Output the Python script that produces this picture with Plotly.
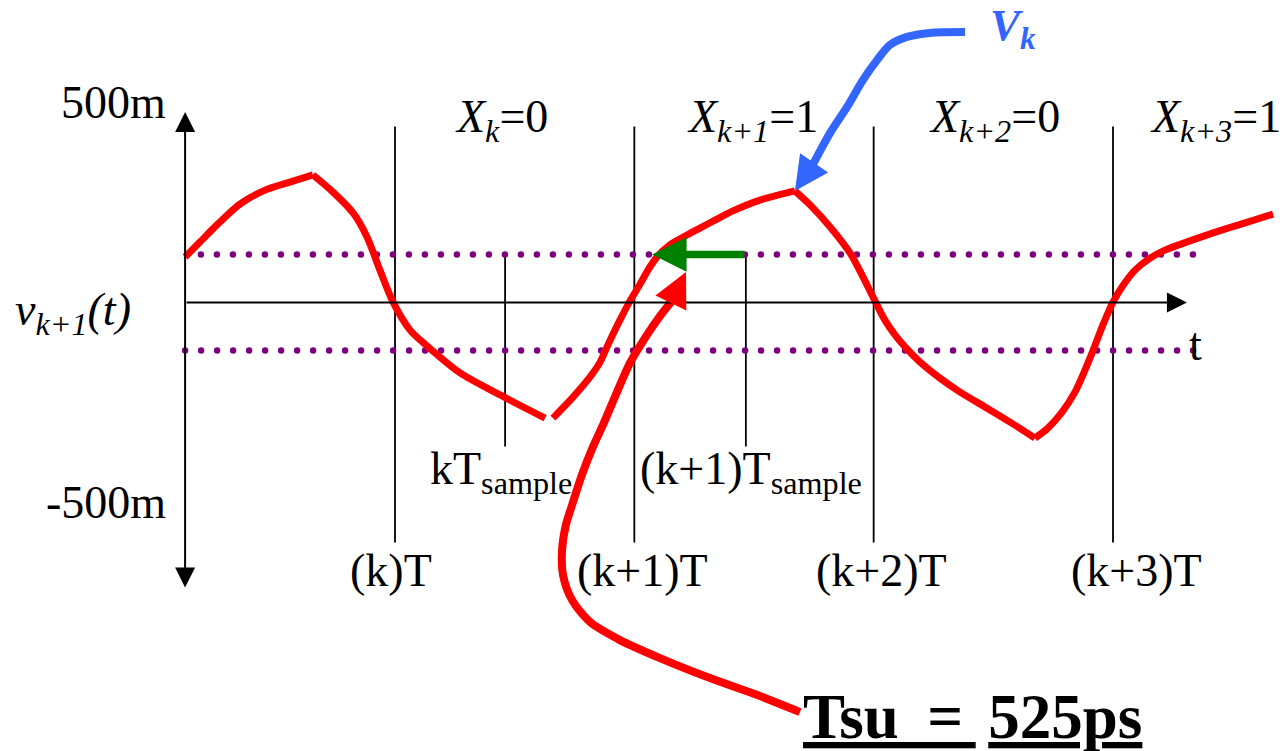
import numpy as np
import plotly.graph_objects as go

# ---------------- data (time in bit periods T, 0 = kT; voltage in mV) ----------------
# received waveform v_{k+1}(t): first piece (ends at the kT_sample region)
wave1_t = [-0.877, -0.815, -0.744, -0.648, -0.543, -0.439, -0.343, -0.259, -0.175, -0.117,
           -0.063, -0.008, 0.063, 0.125, 0.272, 0.439, 0.627]
wave1_v = [114, 151, 194, 246, 281, 301, 319, 276, 224, 164,
           81, 1, -69, -104, -176, -231, -289]

# second piece: rising edge, peak V_k, falling edge, trough, rising edge
wave2_t = [0.660, 0.740, 0.815, 0.857, 0.886, 0.915, 0.944, 0.982, 1.024, 1.057,
           1.095, 1.149, 1.212, 1.274, 1.337, 1.412, 1.525, 1.671,
           1.734, 1.818, 1.901, 1.951, 1.997, 2.047, 2.089, 2.131, 2.194, 2.277,
           2.361, 2.465, 2.570, 2.674,
           2.728, 2.787, 2.841, 2.883, 2.916, 2.958, 3.000, 3.046, 3.092, 3.155,
           3.217, 3.322, 3.418, 3.552, 3.669]
wave2_v = [-289, -239, -186, -149, -111, -74, -39, 4, 46, 81,
           114, 144, 166, 186, 206, 229, 256, 279,
           244, 189, 124, 69, 14, -44, -81, -111, -149, -189,
           -224, -261, -299, -339,
           -314, -274, -224, -169, -121, -56, 1, 46, 81, 111,
           131, 154, 174, 199, 221]

# bit period boundaries and their labels
period_t = [0, 1, 2, 3]
period_labels = ["(k)T", "(k+1)T", "(k+2)T", "(k+3)T"]
period_label_t = [-0.017, 1.035, 2.031, 3.098]
period_span_v = [440, -600]

# bit values inside each period
bit_labels = ["<i>X<sub>k</sub></i>=0", "<i>X<sub>k+1</sub></i>=1",
              "<i>X<sub>k+2</sub></i>=0", "<i>X<sub>k+3</sub></i>=1"]
bit_label_t = [0.445, 1.494, 2.503, 3.43]

# sampling instants
sample_t = [0.46, 1.466]
sample_labels = ["kT<sub>sample</sub>", "(k+1)T<sub>sample</sub>"]
sample_label_t = [0.138, 1.015]
sample_span_v = [120, -360]

# decision thresholds (mV)
threshold_v = [120, -120]
threshold_start_t = [-0.811, -0.877]
threshold_end_t = 3.313

# vertical scale labels
scale_v = [500, -500]
scale_labels = ["500m", "-500m"]

# setup-time annotation
tsu_name = "Tsu"
tsu_value = "525ps"
tsu_t = 0.392          # setup time in bit periods, measured back from (k+1)T_sample

# pointer curve from the Tsu label
pointer_t = [1.692, 1.525, 1.316, 1.107, 0.940, 0.815, 0.740, 0.702, 0.698, 0.714,
             0.740, 0.781, 0.827, 0.869, 0.919, 0.982, 1.053, 1.107, 1.157]
pointer_v = [-1024, -984, -939, -889, -844, -799, -744, -681, -619, -556,
             -506, -431, -361, -306, -236, -151, -81, -34, 4]
pointer_tip = (1.216, 76)

# pointer curve from the V_k label to the peak
vk_t = [2.382, 2.235, 2.139, 2.068, 2.014, 1.955, 1.889, 1.818, 1.763, 1.742]
vk_v = [676, 674, 664, 644, 606, 556, 489, 424, 364, 341]

# axes extent
axis_origin_t = -0.877
axis_end_t = 3.309
axis_top_v = 476
axis_bottom_v = -716

# ---------------- styling ----------------
FONT = "Liberation Serif"
RED = "#FF0000"
PURPLE = "#800080"
GREEN = "#008000"
BLUE = "#3366FF"
BLACK = "#000000"
DOT_PITCH = 0.06685     # spacing of threshold dots, in T

fig = go.Figure()


def vlines(ts, v0, v1):
    xs, ys = [], []
    for t in ts:
        xs += [t, t, None]
        ys += [v0, v1, None]
    return xs, ys


def smooth_line(t, v, color, width, smoothing=0.8):
    fig.add_trace(go.Scatter(x=t, y=v, mode="lines", line_shape="spline",
                             line=dict(color=color, width=width, smoothing=smoothing),
                             hoverinfo="skip"))


def add_wave(t, v, color, width):
    """Draw a waveform as smooth pieces, keeping sharp corners at its extrema."""
    v_arr = np.asarray(v)
    cuts = [i for i in range(1, len(v) - 1)
            if (v_arr[i] - v_arr[i - 1]) * (v_arr[i + 1] - v_arr[i]) < 0]
    bounds = [0] + cuts + [len(v) - 1]
    for a, b in zip(bounds[:-1], bounds[1:]):
        smooth_line(t[a:b + 1], v[a:b + 1], color, width)


# period boundary lines
px_, py_ = vlines(period_t, *period_span_v)
fig.add_trace(go.Scatter(x=px_, y=py_, mode="lines",
                         line=dict(color=BLACK, width=1.8), hoverinfo="skip"))
# sampling instant lines
sx_, sy_ = vlines(sample_t, *sample_span_v)
fig.add_trace(go.Scatter(x=sx_, y=sy_, mode="lines",
                         line=dict(color=BLACK, width=1.8), hoverinfo="skip"))

# dotted threshold lines
for lvl, t0 in zip(threshold_v, threshold_start_t):
    dots = np.arange(t0, threshold_end_t + DOT_PITCH / 2, DOT_PITCH)
    fig.add_trace(go.Scatter(x=dots, y=[lvl] * len(dots), mode="markers",
                             marker=dict(color=PURPLE, size=6.5, line=dict(width=0)),
                             hoverinfo="skip"))

# waveform
add_wave(wave1_t, wave1_v, RED, 7)
add_wave(wave2_t, wave2_v, RED, 7)

# pointer curves
smooth_line(pointer_t, pointer_v, RED, 8)
smooth_line(vk_t, vk_v, BLUE, 8)

ann = []


def arrow(x, y, ax, ay, color, width, size, both=False):
    d = dict(x=x, y=y, ax=ax, ay=ay, xref="x", yref="y", axref="x", ayref="y",
             text="", showarrow=True, arrowhead=2, arrowwidth=width,
             arrowsize=size, arrowcolor=color, standoff=0, startstandoff=0)
    if both:
        d.update(arrowside="end+start", startarrowhead=2, startarrowsize=size)
    return d


# axes
ann.append(arrow(axis_origin_t, axis_top_v, axis_origin_t, axis_bottom_v, BLACK, 2, 2, both=True))
ann.append(arrow(axis_end_t, 0, axis_origin_t, 0, BLACK, 2, 2))

# arrowheads on pointer curves
ann.append(arrow(pointer_tip[0], pointer_tip[1], pointer_t[-1], pointer_v[-1], RED, 8, 0.86))
peak_i = int(np.argmax(wave2_v))
ann.append(arrow(wave2_t[peak_i], wave2_v[peak_i], vk_t[-1], vk_v[-1], BLUE, 8, 0.85))

# setup-time arrow (from sample instant back by Tsu)
ann.append(arrow(sample_t[1] - tsu_t, threshold_v[0], sample_t[1], threshold_v[0], GREEN, 7.5, 0.92))


def label(x, y, text, size=46, xanchor="center", color=BLACK, yanchor="middle"):
    return dict(x=x, y=y, xref="x", yref="y", text=text, showarrow=False,
                xanchor=xanchor, yanchor=yanchor,
                font=dict(family=FONT, size=size, color=color))


for v, txt in zip(scale_v, scale_labels):
    ann.append(label(-0.9485, v, txt, xanchor="right"))

ann.append(label(-1.596, -27, "<i>v<sub>k+1</sub>(t)</i>", xanchor="left"))

for t, txt in zip(bit_label_t, bit_labels):
    ann.append(label(t, 456, txt))

for t, txt in zip(period_label_t, period_labels):
    ann.append(label(t, -671, txt))

for t, txt in zip(sample_label_t, sample_labels):
    ann.append(label(t, -423, txt, xanchor="left"))

ann.append(label(3.343, -106, "t"))

ann.append(label(2.478, 686, "<b><i>V<sub>k</sub></i></b>", size=45, xanchor="left", color=BLUE))

ann.append(label(1.697, -1036,
                 "<b><u>" + tsu_name + "\u2009\u00a0=\u2009</u>\u2009<u>" + tsu_value + "</u></b>",
                 size=63, xanchor="left"))

fig.update_layout(
    width=1284, height=751,
    margin=dict(l=0, r=0, t=0, b=0),
    paper_bgcolor="white", plot_bgcolor="white",
    showlegend=False,
    xaxis=dict(range=[-1.6504, 3.7145], visible=False, fixedrange=True),
    yaxis=dict(range=[-1121.25, 756.25], visible=False, fixedrange=True),
    annotations=ann,
)

fig.write_html("out.html", config={"displayModeBar": False})
